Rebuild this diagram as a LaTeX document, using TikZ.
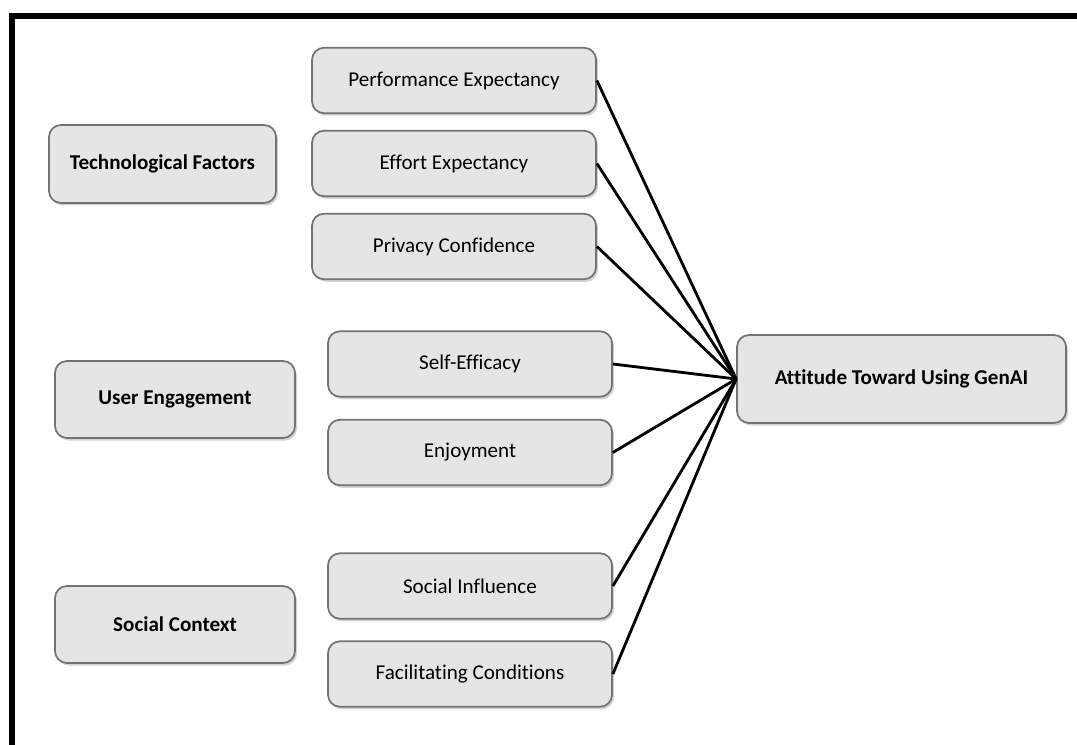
\documentclass[tikz,border=0pt]{standalone}
\usepackage{fontspec}
\setmainfont{Carlito}[Ligatures=NoCommon]
\usetikzlibrary{shadows}
\tikzset{
  box/.style={draw=black!55, line width=1pt, fill=black!10, rounded corners=0.24cm,
    drop shadow={shadow xshift=0.04cm, shadow yshift=-0.05cm, opacity=0.35},
    align=center, inner sep=0pt, font=\fontsize{12}{14}\selectfont},
  group/.style={box, font=\fontsize{12}{14}\selectfont\bfseries},
  factor/.style={box, minimum width=5.68cm, minimum height=1.31cm},
  link/.style={line width=1.6pt}
}
\begin{document}
\begin{tikzpicture}
\useasboundingbox (0,0) rectangle (21.54,-14.9);
\draw[line width=0.12cm] (0.24,-14.95)--(0.24,-0.32)--(21.6,-0.32);
\node[group, minimum width=4.54cm, minimum height=1.56cm] (tech) at (3.25,-3.28) {Technological Factors};
\node[group, minimum width=4.8cm, minimum height=1.54cm] (user) at (3.5,-7.99) {User Engagement};
\node[group, minimum width=4.8cm, minimum height=1.54cm] (soc) at (3.5,-12.49) {Social Context};
\node[factor] (pe) at (9.08,-1.61) {Performance Expectancy};
\node[factor] (ee) at (9.08,-3.27) {Effort Expectancy};
\node[factor] (pc) at (9.08,-4.93) {Privacy Confidence};
\node[factor] (se) at (9.4,-7.28) {Self-Efficacy};
\node[factor] (enj) at (9.4,-9.05) {Enjoyment};
\node[factor] (si) at (9.4,-11.72) {Social Influence};
\node[factor] (fc) at (9.4,-13.48) {Facilitating Conditions};
\node[group, minimum width=6.58cm, minimum height=1.76cm] (att) at (18.03,-7.58) {Attitude Toward Using GenAI};
\foreach \n in {pe,ee,pc,se,enj,si,fc}
  \draw[link] (\n.east)--(att.west);
\end{tikzpicture}
\end{document}
